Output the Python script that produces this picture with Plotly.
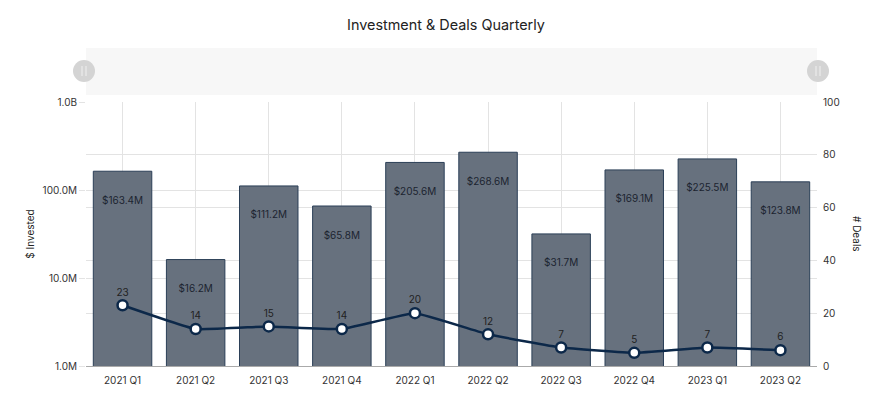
import plotly.graph_objects as go

quarters = ["2021 Q1", "2021 Q2", "2021 Q3", "2021 Q4", "2022 Q1",
            "2022 Q2", "2022 Q3", "2022 Q4", "2023 Q1", "2023 Q2"]
invested_m = [163.4, 16.2, 111.2, 65.8, 205.6, 268.6, 31.7, 169.1, 225.5, 123.8]
deals = [23, 14, 15, 14, 20, 12, 7, 5, 7, 6]
left_tickvals = [1e6, 1e7, 1e8, 1e9]
left_ticktext = ["1.0M", "10.0M", "100.0M", "1.0B"]

FONT = "Inter, Roboto, sans-serif"
BAR_FILL = "#67717e"
BAR_EDGE = "#2b3f57"
LINE_COL = "#0c2849"
GRID = "#e3e3e3"

invested = [v * 1e6 for v in invested_m]
label_y = [v * 0.456 for v in invested]  # label ~30px below bar top on log scale

fig = go.Figure()
fig.add_trace(go.Bar(
    x=quarters, y=invested, yaxis="y",
    marker=dict(color=BAR_FILL, line=dict(color=BAR_EDGE, width=1)),
    hoverinfo="x+y", showlegend=False,
))
fig.add_trace(go.Scatter(
    x=quarters, y=label_y, yaxis="y", mode="text",
    text=[f"${v:.1f}M" for v in invested_m],
    textfont=dict(family=FONT, size=10, color="#1c2430"),
    hoverinfo="skip", showlegend=False,
))
fig.add_trace(go.Scatter(
    x=quarters, y=deals, yaxis="y2", mode="lines+markers+text",
    line=dict(color=LINE_COL, width=2.5, shape="spline", smoothing=0.3),
    marker=dict(size=10, color="white", line=dict(color=LINE_COL, width=2.5)),
    text=[str(d) for d in deals], textposition="top center",
    textfont=dict(family=FONT, size=10, color="#222"),
    showlegend=False,
))

PW, PH = 731, 264
shapes = []
# data zoom strip
shapes.append(dict(type="rect", xref="paper", yref="paper", x0=0, x1=1,
                   y0=1 + 7 / PH, y1=1 + 54 / PH, fillcolor="#f7f7f7", line=dict(width=0),
                   layer="below"))
cy = 1 + 31 / PH
for hx in [-2 / PW, 1 + 1 / PW]:
    shapes.append(dict(type="circle", xref="paper", yref="paper",
                       x0=hx - 11 / PW, x1=hx + 11 / PW,
                       y0=cy - 11 / PH, y1=cy + 11 / PH,
                       fillcolor="#d4d4d4", line=dict(width=0)))
    for dx in [-2, 2]:
        shapes.append(dict(type="line", xref="paper", yref="paper",
                           x0=hx + dx / PW, x1=hx + dx / PW,
                           y0=cy - 5 / PH, y1=cy + 5 / PH,
                           line=dict(color="#f0f0f0", width=1)))

fig.update_layout(
    width=892, height=411,
    margin=dict(l=86, r=75, t=102, b=45, autoexpand=False),
    paper_bgcolor="white", plot_bgcolor="white",
    font=dict(family=FONT, size=10, color="#333"),
    title=dict(text="Investment & Deals Quarterly", x=0.5, xanchor="center",
               y=1 - 25 / 411, yanchor="middle",
               font=dict(family=FONT, size=14.4, color="#222")),
    bargap=0.2,
    xaxis=dict(range=[-0.5, len(quarters) - 0.5], showgrid=True, gridcolor=GRID,
               showline=True, linecolor="#aaa", ticklabelstandoff=5,
               ticks="", tickfont=dict(size=10, color="#333"), zeroline=False),
    yaxis=dict(type="log", range=[6, 9], tickvals=left_tickvals, ticktext=left_ticktext,
               showgrid=True, gridcolor=GRID, zeroline=False,
               ticks="outside", ticklen=6, tickcolor=GRID,
               tickfont=dict(size=10, color="#333"),
               title=dict(text="$ Invested", font=dict(size=10, color="#222"), standoff=6)),
    yaxis2=dict(overlaying="y", side="right", range=[0, 100], dtick=20,
                showgrid=True, gridcolor=GRID, zeroline=False, ticklabelstandoff=5,
                ticks="", tickfont=dict(size=10, color="#333")),
    shapes=shapes,
    annotations=[dict(text="# Deals", textangle=90, xref="paper", yref="paper",
                      x=1 + 48 / PW, y=0.5, showarrow=False,
                      font=dict(family=FONT, size=10, color="#222"))],
)

fig.write_html("out.html", config={"displayModeBar": False},
               post_script="document.body.style.margin='0';document.body.style.overflow='hidden';")
